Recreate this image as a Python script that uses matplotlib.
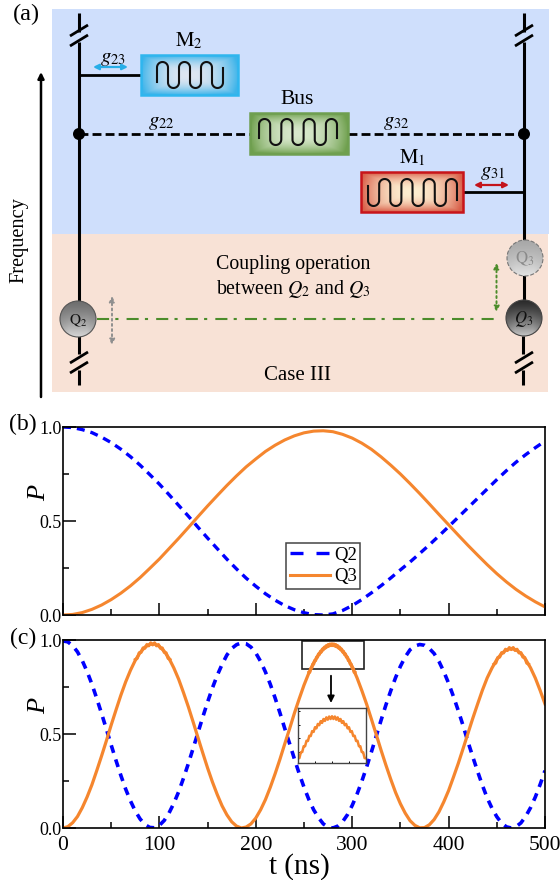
import matplotlib
matplotlib.use('Agg')
import matplotlib.pyplot as plt
import numpy as np
from matplotlib.patches import Circle, Rectangle

plt.rcParams['font.family'] = ['Liberation Serif', 'DejaVu Serif']
plt.rcParams['mathtext.fontset'] = 'stix'

# (b), every 10 ns
t_b = list(range(0, 510, 10))
Q2_b = [1.0, .997, .986, .970, .946, .917, .882, .842, .797, .747, .696, .640, .583, .526, .467,
        .409, .353, .297, .245, .196, .153, .113, .079, .050, .028, .012, .002, .0, .006, .024,
        .050, .082, .118, .156, .197, .240, .282, .327, .373, .421, .470, .520, .570, .620, .670,
        .720, .768, .813, .853, .890, .925]
Q3_b = [.0, .003, .013, .030, .053, .082, .116, .155, .199, .248, .298, .353, .408, .465, .523,
        .580, .635, .689, .740, .788, .830, .870, .903, .931, .953, .969, .978, .980, .975, .961,
        .941, .914, .881, .841, .797, .750, .699, .646, .591, .535, .480, .425, .371, .319, .268,
        .220, .176, .136, .101, .070, .043]

# (c) every 5 ns
t_c = list(range(0, 505, 5))
Q2_c = [.995, .99, .97, .937, .89, .832, .765, .689, .609, .526, .441, .359, .28, .207, .144, .09,
        .048, .018, .003, .001, .014, .04, .08, .132, .193, .265, .342, .424, .507, .59, .67, .745,
        .812, .87, .92, .955, .975, .985, .98, .962, .931, .886, .83, .765, .692, .613, .53, .45,
        .368, .29, .217, .152, .097, .055, .022, .004, .0, .01, .033, .07, .12, .18, .249, .325,
        .406, .49, .574, .655, .73, .8, .86, .91, .948, .968, .976, .972, .955, .928, .886, .832,
        .77, .7, .625, .545, .46, .38, .302, .228, .16, .105, .06, .026, .006, .0, .007, .027, .062,
        .108, .165, .232, .305]
Q3_c = [.0, .007, .028, .061, .108, .165, .230, .305, .383, .464, .548, .628, .706, .777, .839, .892,
        .933, .962, .977, .979, .966, .940, .902, .851, .791, .720, .645, .564, .481, .399, .319,
        .245, .178, .118, .070, .033, .010, .0, .005, .022, .053, .097, .151, .216, .288, .365, .447,
        .527, .610, .687, .760, .824, .878, .921, .953, .971, .975, .965, .942, .906, .858, .799,
        .731, .658, .578, .496, .413, .334, .259, .189, .129, .079, .039, .014, .001, .002, .017,
        .045, .086, .139, .199, .270, .343, .422, .502, .582, .658, .732, .798, .851, .896, .928,
        .948, .955, .948, .929, .896, .852, .797, .731, .660]

# fast ripple on the Q3 peaks, it makes the line look thicker there
t_p1 = list(range(75, 113, 2))
Q3_p1 = [.896, .902, .932, .934, .958, .956, .976, .969, .985, .974, .985, .969, .976, .956, .958,
         .934, .932, .902, .896]
t_p3 = list(range(447, 485, 2))
Q3_p3 = [.871, .877, .907, .909, .933, .931, .951, .944, .960, .949, .960, .944, .951, .931, .933,
         .909, .907, .877, .871]

# zoomed piece of Q3 near the second peak
t_in = list(range(255, 304))
Q3_in = [.827, .828, .849, .850, .871, .871, .891, .890, .909, .908, .926, .923, .940, .936, .952,
         .9475, .962, .956, .970, .963, .976, .9675, .979, .970, .980, .970, .979, .9675, .976, .963,
         .970, .956, .962, .9475, .952, .936, .940, .923, .926, .908, .909, .890, .891, .871, .871,
         .850, .849, .828, .827]

BLUE = '#0000ff'
ORANGE = '#f5862e'
GREEN = '#4c8c2b'

fig = plt.figure(figsize=(5.6, 8.8), dpi=100)


def axes_px(x0, y0, x1, y1):
    return fig.add_axes([x0 / 560, (880 - y1) / 880, (x1 - x0) / 560, (y1 - y0) / 880])


# panel (a) is a drawing in pixel coordinates
ax0 = fig.add_axes([0, 0, 1, 1])
ax0.set_xlim(0, 560)
ax0.set_ylim(880, 0)
ax0.axis('off')

ax0.add_patch(Rectangle((52, 9), 497, 225, fc='#cfdffc', ec='none'))
ax0.add_patch(Rectangle((52, 234), 496, 158, fc='#f8e2d6', ec='none'))


def line(xs, ys, **kw):
    kw.setdefault('color', 'k')
    kw.setdefault('lw', 2)
    ax0.plot(xs, ys, solid_capstyle='butt', **kw)


def break_mark(x, y):
    line([x - 9, x + 9], [y + 5, y - 6])
    line([x - 9, x + 9], [y + 15, y + 4])


def resonator(x0, y0, x1, y1, edge, mid, outer, sx0, sx1, top, bot, n, y_start, y_end, up_first=True):
    # box with a soft glow from the centre
    yy, xx = np.mgrid[-1:1:60j, -1:1:120j]
    d = np.clip(np.maximum(np.abs(xx), np.abs(yy)) ** 2.2 * 0.75 + (xx ** 2 + yy ** 2) * 0.2, 0, 1)
    c0, c1 = np.array(matplotlib.colors.to_rgb(mid)), np.array(matplotlib.colors.to_rgb(outer))
    img = c0[None, None, :] * (1 - d[..., None]) + c1[None, None, :] * d[..., None]
    ax0.imshow(img, extent=(x0, x1, y1, y0), aspect='auto', zorder=2)
    ax0.add_patch(Rectangle((x0, y0), x1 - x0, y1 - y0, fc='none', ec=edge, lw=1.8, zorder=3))
    # meander
    w = (sx1 - sx0) / n
    r = w / 2
    xs, ys = [], []
    up = up_first
    for i in range(n):
        a = np.linspace(np.pi, 0, 20)
        xs += list(sx0 + i * w + r + r * np.cos(a))
        if up:
            ys += list(top + r - r * np.sin(a))
        else:
            ys += list(bot - r + r * np.sin(a))
        up = not up
    xs = [xs[0]] + xs + [xs[-1]]
    ys = [y_start] + ys + [y_end]
    ax0.plot(xs, ys, color='#111111', lw=1.5, zorder=4)


def sphere(x, y, c_top, c_bot, ec, r=18, ls='-'):
    yy, xx = np.mgrid[-1:1:60j, -1:1:60j]
    d = np.clip((yy + 1) / 2, 0, 1) ** 1.3
    d = d * (1 - 0.5 * np.clip(np.abs(xx) - .5, 0, 1))
    c0, c1 = np.array(matplotlib.colors.to_rgb(c_top)), np.array(matplotlib.colors.to_rgb(c_bot))
    img = c0[None, None, :] * (1 - d[..., None]) + c1[None, None, :] * d[..., None]
    im = ax0.imshow(img, extent=(x - r, x + r, y + r, y - r), aspect='auto', zorder=5)
    circ = Circle((x, y), r, fc='none', ec=ec, lw=.8, ls=ls, zorder=6)
    ax0.add_patch(circ)
    im.set_clip_path(circ)


def double_arrow(x0, y0, x1, y1, color, ls='-', lw=1.6):
    ax0.annotate('', xy=(x1, y1), xytext=(x0, y0),
                 arrowprops=dict(arrowstyle='<|-|>', color=color, lw=lw, ls=ls,
                                 mutation_scale=8, shrinkA=0, shrinkB=0), zorder=7)


# left and right lines
line([79, 79], [13, 32], lw=2.2)
line([79, 79], [42, 306], lw=2.2)
line([79, 79], [336, 354], lw=2.2)
line([79, 79], [370, 385], lw=2.2)
break_mark(79, 31)
break_mark(79, 358)
line([524, 524], [13, 32], lw=2.2)
line([524, 524], [42, 242], lw=2.2)
line([524, 524], [272, 304], lw=2.2)
line([523, 523], [336, 354], lw=2.2)
line([523, 523], [370, 385], lw=2.2)
break_mark(524, 31)
break_mark(524, 358)

line([79, 141], [75, 75], lw=2)
line([463, 524], [192, 192], lw=2)
ax0.plot([79, 250], [134, 134], color='k', lw=2, dashes=(3.2, 1.5))
ax0.plot([348, 524], [134, 134], color='k', lw=2, dashes=(3.2, 1.5))
ax0.add_patch(Circle((79, 134), 6, fc='k', ec='none', zorder=4))
ax0.add_patch(Circle((524, 134), 6, fc='k', ec='none', zorder=4))

resonator(141, 55, 238, 95, '#2fb6ee', '#dfe6f2', '#3cb4ea', 157, 223, 62, 88, 6, 82, 68)
resonator(250, 113, 348, 154, '#6f9f50', '#d8e8cc', '#6fa04e', 259, 337, 119, 145, 7, 138, 138)
resonator(361, 172, 463, 212, '#c8141a', '#fdeed0', '#d9604a', 368, 457, 179, 206, 8, 186, 200, up_first=False)

double_arrow(93, 67, 128, 67, '#27aee8')
double_arrow(474, 185, 509, 185, '#c4141c')
ax0.plot([97, 497], [319, 319], color=GREEN, lw=1.5, dashes=(5.8, 3, 1.5, 3.9))
double_arrow(496.5, 263, 496.5, 312, GREEN, ls=':', lw=1.4)
double_arrow(112, 296, 112, 345, '#8f8f8f', ls=':', lw=1.4)

sphere(78, 319, '#6e6e6e', '#d6d6d6', '#555555')
sphere(524, 318, '#2b2b2b', '#c4c4c4', '#444444')
sphere(525, 258, '#a8a8a8', '#e2e2e2', '#777777', ls='--')

ax0.text(78, 321, r'$\mathrm{Q}_2$', fontsize=11, ha='center', va='center', color='#111111', zorder=8)
ax0.text(524, 319, r'$Q_3$', fontsize=12, ha='center', va='center', color='#111111', zorder=8)
ax0.text(525, 259, r'$\mathrm{Q}_3$', fontsize=12, ha='center', va='center', color='#8a8a8a', zorder=8)

ax0.text(113, 58, r'$g_{23}$', fontsize=15, ha='center', va='center')
ax0.text(161, 123, r'$g_{22}$', fontsize=15, ha='center', va='center')
ax0.text(396, 123, r'$g_{32}$', fontsize=15, ha='center', va='center')
ax0.text(493, 173, r'$g_{31}$', fontsize=15, ha='center', va='center')
ax0.text(189, 41, r'$\mathrm{M}_2$', fontsize=15, ha='center', va='center')
ax0.text(412, 158, r'$\mathrm{M}_1$', fontsize=15, ha='center', va='center')
ax0.text(297, 100, 'Bus', fontsize=15.5, ha='center', va='center')
ax0.text(293, 264, 'Coupling operation', fontsize=14.3, ha='center', va='center')
ax0.text(293, 289, r'between $Q_2$ and $Q_3$', fontsize=14.3, ha='center', va='center')
ax0.text(298, 375, 'Case III', fontsize=15, ha='center', va='center')
ax0.text(19, 240, 'Frequency', fontsize=14.7, rotation=90, ha='center', va='center')
ax0.annotate('', xy=(41, 72), xytext=(41, 397),
             arrowprops=dict(arrowstyle='-|>', color='k', lw=1.8, mutation_scale=9, shrinkA=0, shrinkB=0))
ax0.text(26, 14, '(a)', fontsize=17.5, ha='center', va='center')
ax0.text(23, 424, '(b)', fontsize=17, ha='center', va='center')
ax0.text(23, 638, '(c)', fontsize=17, ha='center', va='center')


def setup(ax):
    ax.patch.set_alpha(0)
    ax.set_xlim(0, 500)
    ax.set_ylim(0, 1)
    ax.set_xticks([0, 100, 200, 300, 400, 500])
    ax.set_xticks([50, 150, 250, 350, 450], minor=True)
    ax.set_yticks([0, 0.5, 1])
    ax.set_yticklabels(['0.0', '0.5', '1.0'])
    ax.set_yticks([0.25, 0.75], minor=True)
    ax.tick_params(which='major', direction='in', length=9, width=1.1, labelsize=13, pad=1)
    ax.tick_params(axis='x', which='major', labelsize=15.5, pad=6)
    ax.tick_params(which='minor', direction='in', length=4.5, width=1.1)
    for s in ax.spines.values():
        s.set_linewidth(1.2)
    ax.set_ylabel('P', fontstyle='italic', fontsize=19, labelpad=0)
    ax.yaxis.set_label_coords(-0.026, 0.65)


ax1 = axes_px(63, 427, 545, 615)
setup(ax1)
ax1.plot(t_b, Q2_b, color=BLUE, lw=2.4, dashes=(2.4, 1.8), label='Q2')
ax1.plot(t_b, Q3_b, color=ORANGE, lw=2.2, label='Q3')
ax1.tick_params(labelbottom=False)
leg = ax1.legend(loc='lower left', bbox_to_anchor=((286 - 63) / 482, (615 - 589) / 188), fontsize=13.5,
                 fancybox=False, framealpha=1, edgecolor='#444444', borderpad=.2, handlelength=2.15,
                 handletextpad=.2, labelspacing=.22, borderaxespad=0)
leg.get_frame().set_linewidth(1.1)
leg.get_lines()[0].set_dashes((3.9, 3.9))

ax2 = axes_px(63, 640, 545, 828)
setup(ax2)
ax2.plot(t_c, Q2_c, color=BLUE, lw=2.6, dashes=(2.2, 1.9))
ax2.plot(t_c, Q3_c, color=ORANGE, lw=2.3)
ax2.plot(t_p1, Q3_p1, color=ORANGE, lw=2.2)
ax2.plot(t_in, Q3_in, color=ORANGE, lw=2.2)
ax2.plot(t_p3, Q3_p3, color=ORANGE, lw=2.2)
ax2.set_xticklabels(['0', '100', '200', '300', '400', '500'])
ax2.set_xlabel('t (ns)', fontsize=21, labelpad=0)
ax2.xaxis.set_label_coords(0.49, -0.135)
ax2.add_patch(Rectangle((248, .846), 64, .149, fc='none', ec='#222222', lw=1.2))
ax2.annotate('', xy=(278, .665), xytext=(278, .81),
             arrowprops=dict(arrowstyle='-|>', color='k', lw=1.3, mutation_scale=10, shrinkA=0, shrinkB=0))

ax_in = axes_px(298, 708, 366, 763)
ax_in.plot(t_in, Q3_in, color=ORANGE, lw=1.8)
ax_in.set_xlim(255, 303)
ax_in.set_ylim(.81, 1.01)
ax_in.set_xticks([267, 279, 291])
ax_in.set_yticks([.85, .9, .95, 1.0])
ax_in.tick_params(direction='in', length=1.5, width=.7, labelbottom=False, labelleft=False)
for s in ax_in.spines.values():
    s.set_color('#444444')
    s.set_linewidth(1)

fig.savefig('out.png', dpi=100)
